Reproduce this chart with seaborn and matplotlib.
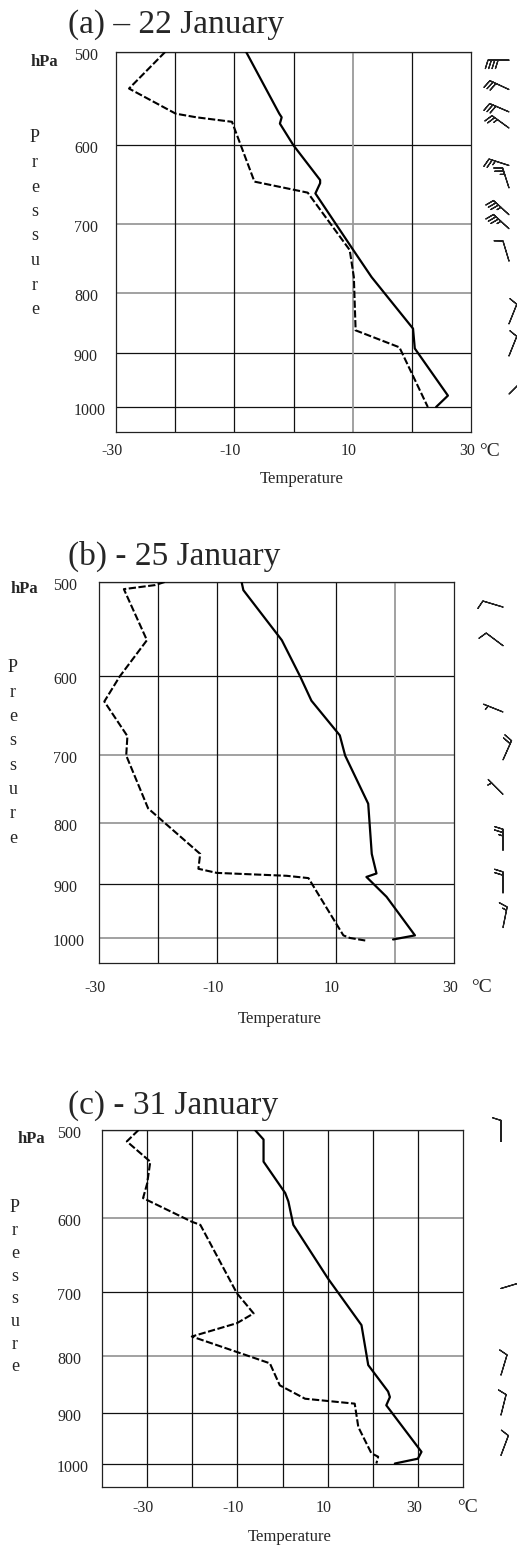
import numpy as np
import pandas as pd
import matplotlib
matplotlib.use("Agg")
import matplotlib.pyplot as plt
import seaborn as sns

sns.set_theme(style="white")
plt.rcParams["font.family"] = ["Liberation Serif", "DejaVu Serif"]

W, H = 517, 1547

# ---------------- data ----------------
titles = ["(a) \u2013 22 January", "(b) - 25 January", "(c) - 31 January"]
pressure_ticks = [500, 600, 700, 800, 900, 1000]
temp_ticks = [-30, -10, 10, 30]
temp_tick_labels = ["-30", "-10", "10", "30"]

# panel (a) 22 January
a_temp_p = [500, 564, 568, 575, 600, 642, 646, 659, 736, 776, 858, 892, 978, 1000]
a_temp_t = [-8.0, -2.4, -2.0, -2.3, 0.0, 4.5, 4.5, 3.7, 10.1, 13.2, 20.2, 20.5, 26.1, 24.1]
a_dew_p = [500, 537, 564, 568, 573, 644, 658, 736, 776, 861, 890, 1000]
a_dew_t = [-21.7, -27.8, -19.9, -16.4, -10.4, -6.6, 2.4, 9.5, 10.2, 10.5, 17.9, 22.7]

# panel (b) 25 January
b_temp_p = [500, 508, 560, 601, 630, 674, 701, 770, 849, 882, 888, 923, 995, 1003]
b_temp_t = [-5.9, -5.6, 0.9, 4.0, 5.9, 10.7, 11.6, 15.5, 16.1, 16.9, 15.2, 18.6, 23.4, 19.7]
b_dew_p = [500, 503, 507, 560, 601, 631, 675, 701, 777, 849, 874, 881, 886, 890, 995, 1000, 1005]
b_dew_t = [-18.9, -20.5, -25.8, -21.9, -26.5, -29.1, -25.2, -25.4, -21.7, -12.9, -13.2,
           -10.1, 1.7, 5.4, 11.3, 12.4, 15.0]

# panel (c) 31 January
c_temp_p = [500, 510, 534, 570, 580, 609, 681, 750, 815, 861, 871, 886, 976, 990, 1000]
c_temp_t = [-6.1, -4.2, -4.2, 0.6, 1.3, 2.4, 10.1, 17.5, 19.0, 23.4, 23.8, 23.0, 30.8, 30.0, 24.9]
c_dew_p = [500, 512, 534, 559, 576, 605, 609, 702, 732, 747, 768, 812, 850, 874, 883, 927,
           979, 986, 1000]
c_dew_t = [-31.9, -34.5, -29.3, -30.0, -30.9, -20.1, -18.2, -10.1, -6.4, -10.1, -20.1, -2.8,
           -0.6, 5.0, 16.0, 16.8, 19.7, 21.2, 20.8]

# wind barbs (pressure, u, v in knots)
a_wind_p = [508, 538, 562, 580, 624, 652, 687, 706, 752, 850, 905, 975]
a_wind_u = [40, 26, 28, 22, 25, 8, 24, 24, 3, -4, -4, -4]
a_wind_v = [0, -12, -12, -16, -8, -25, -22, -22, -10, -10, -10, -4]

b_wind_p = [525, 566, 644, 707, 756, 843, 916, 980]
b_wind_u = [10, 8, 5, -8, 5, 0, 0, -3]
b_wind_v = [-3, -6, -2, -18, -5, -25, -20, -15]

c_wind_p = [512, 695, 832, 904, 983]
c_wind_u = [0, -10, -3, -3, -3]
c_wind_v = [-10, -3, -10, -12, -8]

# ---------------- layout (pixels) ----------------
panels = [
    dict(title=titles[0], tp=a_temp_p, tt=a_temp_t, dp=a_dew_p, dt=a_dew_t,
         wp=a_wind_p, wu=a_wind_u, wv=a_wind_v,
         box=(116, 52, 471, 432), xlim=(-30, 30), title_y=25, hpa=(44, 62),
         press=(35, 138, 24.5), xlab_y=451, degc_x=490, templab=(302, 479),
         ylab_x=74, wind_x=509,
         light_h=[700, 800], light_v=[10]),
    dict(title=titles[1], tp=b_temp_p, tt=b_temp_t, dp=b_dew_p, dt=b_dew_t,
         wp=b_wind_p, wu=b_wind_u, wv=b_wind_v,
         box=(99, 582, 454, 963), xlim=(-30, 30), title_y=556, hpa=(24, 589),
         press=(13, 668, 24.3), xlab_y=988, degc_x=482, templab=(280, 1019),
         ylab_x=53, wind_x=503,
         light_h=[700, 800, 1000], light_v=[20]),
    dict(title=titles[2], tp=c_temp_p, tt=c_temp_t, dp=c_dew_p, dt=c_dew_t,
         wp=c_wind_p, wu=c_wind_u, wv=c_wind_v,
         box=(102, 1130, 463, 1487), xlim=(-40, 40), title_y=1106, hpa=(31, 1139),
         press=(15, 1208, 22.7), xlab_y=1508, degc_x=468, templab=(290, 1537),
         ylab_x=57, wind_x=501,
         light_h=[600, 800], light_v=[]),
]

fig = plt.figure(figsize=(W / 100, H / 100), dpi=100)
fig.patch.set_facecolor("white")

def fx(x):
    return x / W

def fy(y):
    return 1 - y / H

for P in panels:
    l, t, r, b = P["box"]
    ax = fig.add_axes([fx(l), fy(b), (r - l) / W, (b - t) / H])
    ax.set_facecolor("white")
    ax.set_yscale("log")
    ax.set_ylim(1050, 500)
    ax.set_xlim(*P["xlim"])

    # grid lines
    for pr in pressure_ticks:
        light = pr in P["light_h"]
        ax.axhline(pr, color="#9a9a9a" if light else "#111111",
                   lw=1.3 if light else 0.9, zorder=1)
    for xv in range(P["xlim"][0] + 10, P["xlim"][1], 10):
        light = xv in P["light_v"]
        ax.axvline(xv, color="#9a9a9a" if light else "#111111",
                   lw=1.3 if light else 0.9, zorder=1)
    for s in ax.spines.values():
        s.set_visible(True)
        s.set_color("#222222")
        s.set_linewidth(0.9)

    df_t = pd.DataFrame({"T": P["tt"], "p": P["tp"]})
    df_d = pd.DataFrame({"T": P["dt"], "p": P["dp"]})
    sns.lineplot(data=df_t, x="T", y="p", sort=False, estimator=None, ax=ax,
                 color="black", lw=1.6, zorder=3)
    sns.lineplot(data=df_d, x="T", y="p", sort=False, estimator=None, ax=ax,
                 color="black", lw=1.5, zorder=3, linestyle=(0, (3.5, 1.2)))

    ax.set_xlabel("")
    ax.set_ylabel("")
    ax.set_xticks(temp_ticks)
    ax.set_xticklabels([])
    ax.set_yticks(pressure_ticks)
    ax.set_yticklabels([])
    ax.minorticks_off()
    ax.tick_params(length=0)

    # tick labels as text
    for tv, tl in zip(temp_ticks, temp_tick_labels):
        xpix = l + (tv - P["xlim"][0]) / (P["xlim"][1] - P["xlim"][0]) * (r - l)
        fig.text(fx(xpix - 4), fy(P["xlab_y"]), tl, ha="center", va="center", fontsize=11.5)
    logb, logt = np.log(1050), np.log(500)
    for pr in pressure_ticks:
        ypix = t + (np.log(pr) - logt) / (logb - logt) * (b - t)
        fig.text(fx(P["ylab_x"]), fy(ypix + 4), str(pr), ha="left", va="center", fontsize=11.5)

    fig.text(fx(P["degc_x"]), fy(P["xlab_y"]), "\u00b0C", ha="center", va="center", fontsize=14)
    fig.text(fx(P["templab"][0]), fy(P["templab"][1]), "Temperature", ha="center",
             va="center", fontsize=12)
    fig.text(fx(68), fy(P["title_y"]), P["title"], ha="left", va="center", fontsize=24)
    fig.text(fx(P["hpa"][0]), fy(P["hpa"][1]), "hPa", ha="center", va="center",
             fontsize=12, fontweight="bold")
    px0, py0, dpy = P["press"]
    for i, ch in enumerate("Pressure"):
        fig.text(fx(px0), fy(py0 + i * dpy), ch, ha="center", va="center", fontsize=13)

    # wind barbs
    axw = fig.add_axes([fx(r), fy(b), (W - r) / W, (b - t) / H], sharey=ax)
    axw.set_xlim(r, W)
    axw.axis("off")
    bb = axw.barbs(np.full(len(P["wp"]), P["wind_x"]), P["wp"], P["wu"], P["wv"],
                   length=5.5, linewidth=0.9, color="#222222", flip_barb=True,
                   sizes=dict(spacing=0.16, height=0.4, width=0.25))
    bb.set_clip_on(False)

fig.savefig("out.png", dpi=100, facecolor="white")
